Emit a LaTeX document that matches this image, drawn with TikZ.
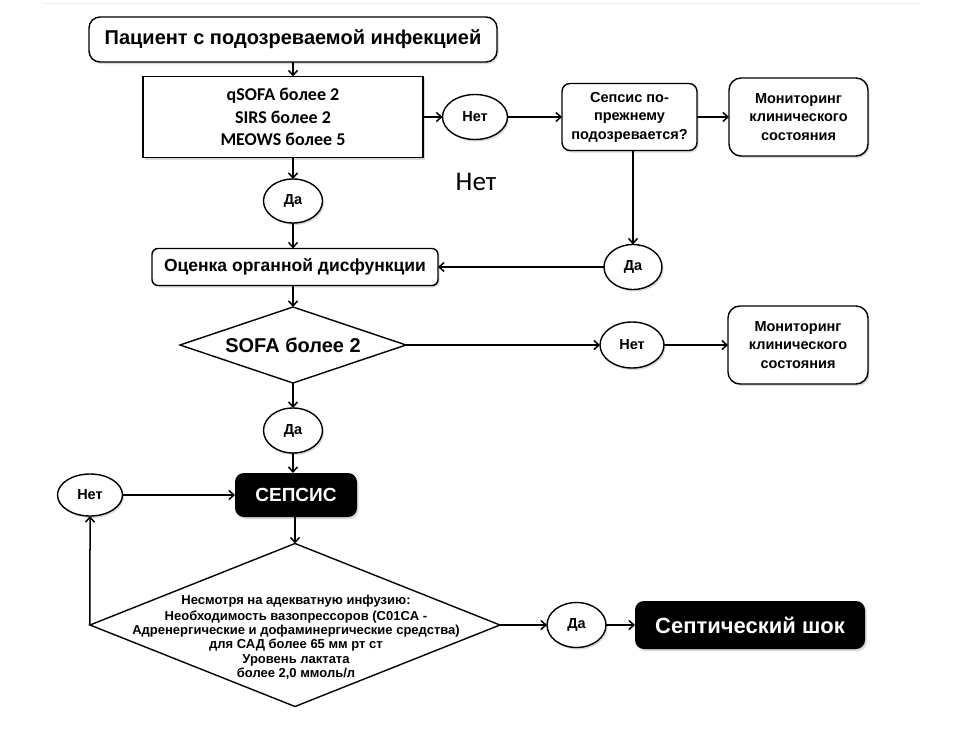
\documentclass[tikz,border=0pt]{standalone}
\usepackage{fontspec}
\setmainfont{Liberation Sans}
\newfontfamily\calibri{Carlito}
\usetikzlibrary{shapes.geometric,arrows.meta,shadows}

\begin{document}
\begin{tikzpicture}[
        x=1bp, y=-1bp,
        every node/.style={inner sep=0pt, outer sep=0pt, line width=1.4bp, align=center},
        boxshadow/.style={drop shadow={shadow xshift=1.5bp, shadow yshift=-2bp, opacity=0.3}},
        rbox/.style={draw, fill=white, rounded corners=8bp, boxshadow,
                     font=\fontsize{14.5bp}{18.5bp}\selectfont\bfseries},
        critbox/.style={draw, fill=white, boxshadow, font=\calibri\fontsize{18bp}{22.5bp}\selectfont\bfseries},
        answer/.style={draw, ellipse, fill=white, boxshadow, minimum width=59bp, minimum height=44bp,
                       font=\fontsize{14.5bp}{17bp}\selectfont\bfseries},
        decision/.style={draw, diamond, fill=white, aspect=3},
        outcome/.style={fill=black, rounded corners=9bp, text=white, boxshadow},
        arr/.style={-{Straight Barb[length=5bp,width=9bp]}, line width=1.5bp},
        ]
    \useasboundingbox (0,0) rectangle (966,747);
    \draw[gray!12, line width=1bp] (42,4) -- (920,4);

    \node[rbox, rounded corners=11bp, minimum width=408bp, minimum height=45bp,
          font=\fontsize{20bp}{24bp}\selectfont\bfseries] (start) at (293,39.5) {Пациент с подозреваемой инфекцией};
    \node[critbox, minimum width=280bp, minimum height=81bp] (crit) at (283,117) {qSOFA более 2\\SIRS более 2\\MEOWS более 5};
    \node[answer, minimum width=65bp, minimum height=45bp] (no1) at (475,117) {Нет};
    \node[rbox, minimum width=135bp, minimum height=67bp] (suspect) at (629.5,117) {Сепсис по-\\прежнему\\подозревается?};
    \node[rbox, rounded corners=12bp, minimum width=139bp, minimum height=78bp] (mon1) at (798.5,117) {Мониторинг\\клинического\\состояния};
    \node[font=\calibri\fontsize{27bp}{30bp}\selectfont] (nolabel) at (476,182) {Нет};

    \node[answer] (yes1) at (293,201) {Да};
    \node[answer, minimum width=58bp, minimum height=45bp] (yes2) at (633,267) {Да};
    \node[rbox, rounded corners=6bp, minimum width=286bp, minimum height=37bp,
          font=\fontsize{17.5bp}{20bp}\selectfont\bfseries] (organ) at (295,267) {Оценка органной дисфункции};

    \node[decision, minimum width=226bp, minimum height=76bp,
          font=\fontsize{20bp}{23bp}\selectfont\bfseries] (sofa) at (293,345) {SOFA более 2};
    \node[answer, minimum width=64bp, minimum height=46bp] (no2) at (632,345) {Нет};
    \node[rbox, rounded corners=12bp, minimum width=140bp, minimum height=78bp] (mon2) at (798,345) {Мониторинг\\клинического\\состояния};
    \node[answer, minimum height=45bp] (yes3) at (293,430.5) {Да};

    \node[outcome, minimum width=122bp, minimum height=44bp,
          font=\fontsize{19bp}{22bp}\selectfont\bfseries] (sepsis) at (296,495) {СЕПСИС};
    \node[answer, minimum width=65bp, minimum height=42bp] (no3) at (90,495) {Нет};

    \node[decision, minimum width=410bp, minimum height=163bp] (shockdec) at (295,625) {};
    \node[font=\fontsize{13bp}{14.2bp}\selectfont\bfseries] (shocktxt) at (296,637) {Несмотря на адекватную инфузию:\\[2bp]
        Необходимость вазопрессоров (C01CA -\\Адренергические и дофаминергические средства)\\
        для САД более 65 мм рт ст\\Уровень лактата\\более 2,0 ммоль/л};
    \node[answer, minimum height=45bp] (yes4) at (576.5,625) {Да};
    \node[outcome, minimum width=230bp, minimum height=48bp,
          font=\fontsize{22bp}{26bp}\selectfont\bfseries] (shock) at (750,625) {Септический шок};

    \draw[arr] (start.south) -- (start.south |- crit.north);
    \draw[arr] (crit.south -| yes1) -- (yes1);
    \draw[arr] (crit) -- (no1);
    \draw[arr] (no1) -- (suspect);
    \draw[arr] (suspect) -- (mon1);
    \draw[arr] (suspect.south -| yes2) -- (yes2);
    \draw[arr] (yes2) -- (organ);
    \draw[arr] (yes1) -- (yes1 |- organ.north);
    \draw[arr] (organ.south -| sofa) -- (sofa);
    \draw[arr] (sofa) -- (no2);
    \draw[arr] (no2) -- (mon2);
    \draw[arr] (sofa) -- (yes3);
    \draw[arr] (yes3) -- (yes3 |- sepsis.north);
    \draw[arr] (sepsis.south -| shockdec) -- (shockdec);
    \draw[arr] (shockdec.west) -- (no3);
    \draw[arr] (no3) -- (sepsis);
    \draw[arr] (shockdec) -- (yes4);
    \draw[arr] (yes4) -- (shock);
    \end{tikzpicture}
\end{document}
